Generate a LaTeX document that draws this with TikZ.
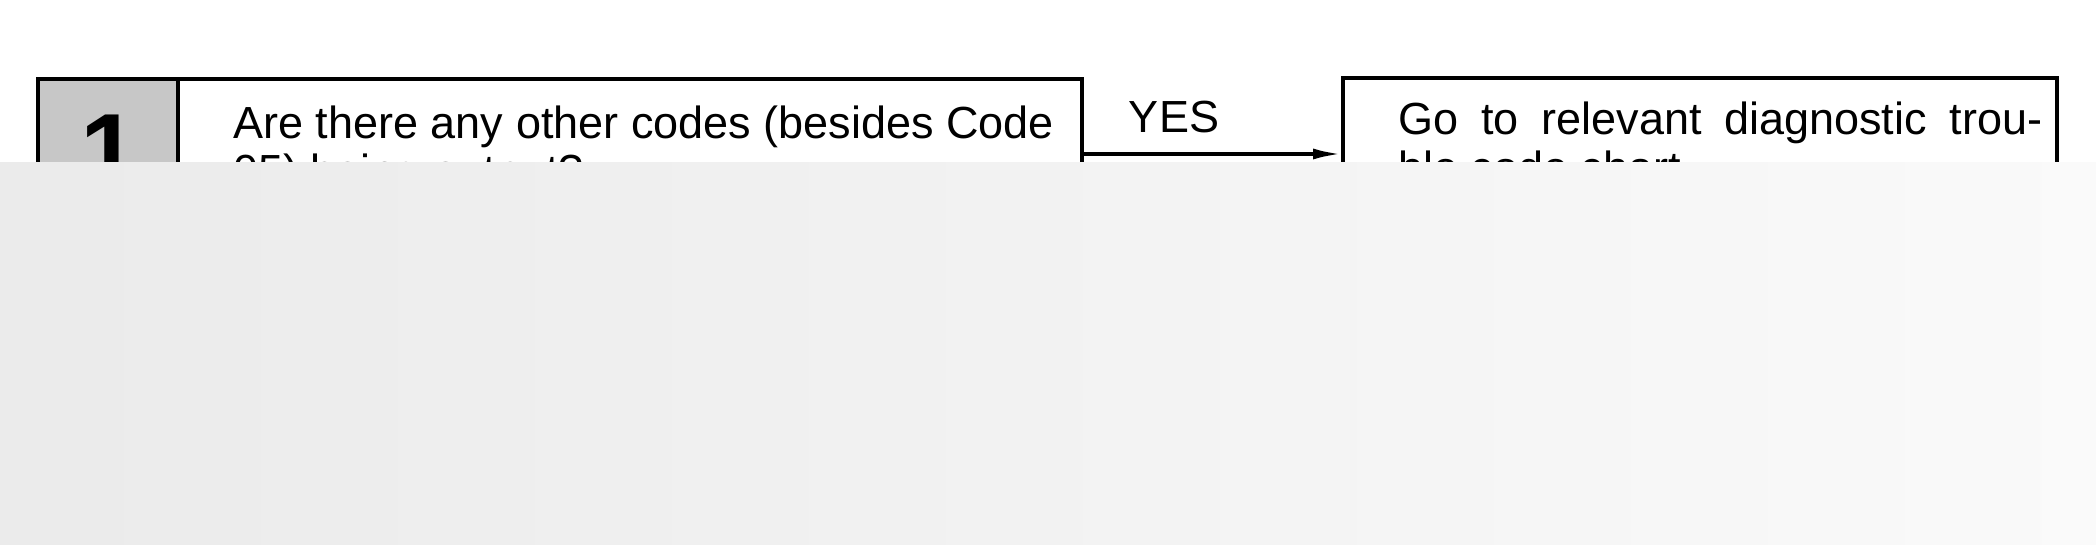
\documentclass[tikz,border=0pt]{standalone}
\usepackage{fontspec}
\setmainfont{Liberation Sans}
\usetikzlibrary{arrows.meta}
\begin{document}
\begin{tikzpicture}[x=0.5pt,y=-0.5pt,
every node/.style={inner sep=0pt,font=\fontsize{22.5}{24.5}\selectfont},
box/.style={draw,line width=1.9pt,minimum height=111pt},
txt/.style={anchor=base west,align=left},
arw/.style={-{Latex[length=14pt,width=5.5pt]},line width=1.7pt}
]
\useasboundingbox (0,0) rectangle (2096,545);
\node[box,minimum width=522pt]at(560,190)(q1){};
\node[box,minimum width=70pt,fill=black!22]at(108,190)(n1){};
\node[font=\fontsize{52}{52}\bfseries,anchor=north]at(109,115)(num){1};
\node[txt]at(233,187)(q1t){Are there any other codes (besides Code\\05) being output?};
\node[box,minimum width=357pt]at(1700,189)(a1){};
\node[txt]at(1398,184)(a1t){\makebox[322pt][s]{Go to relevant diagnostic trou-}\\ble code chart.};
\node[anchor=base]at(1174,133)(yes){YES};
\coordinate(yesy)at(0,154);
\draw[arw](q1.east|-yesy)--(a1.west|-yesy);
% cover
\fill[left color=black!8,right color=black!2](0,163)rectangle(2096,545);
\end{tikzpicture}
\end{document}
